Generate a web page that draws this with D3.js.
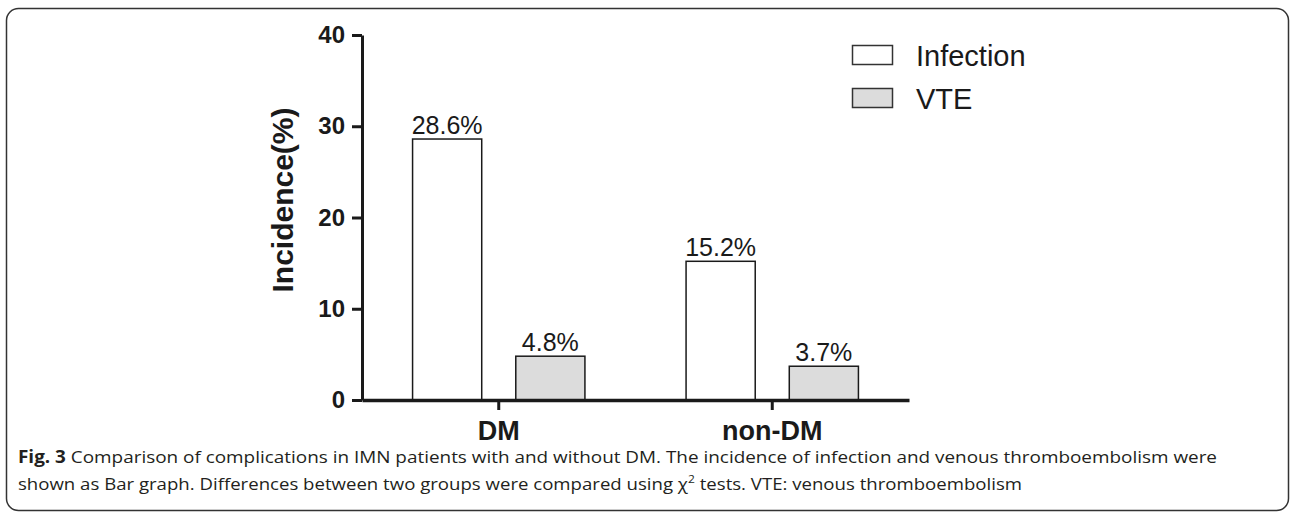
<!DOCTYPE html>
<html>
<head>
<meta charset="utf-8">
<script src="https://cdn.jsdelivr.net/npm/d3@7"></script>
<style>
  html, body { margin: 0; padding: 0; background: #fff; }
  svg { display: block; }
</style>
</head>
<body>
<svg id="chart" width="1292" height="513"></svg>
<script>
// ---- data ----
const groups = ["DM", "non-DM"];
const seriesKeys = ["Infection", "VTE"];
const infectionValues = [28.6, 15.2];
const vteValues = [4.8, 3.7];
const valueLabels = [["28.6%", "4.8%"], ["15.2%", "3.7%"]];
const yTicks = [0, 10, 20, 30, 40];
const yTitle = "Incidence(%)";
const captionLine1Bold = "Fig. 3";
const captionLine1 = " Comparison of complications in IMN patients with and without DM. The incidence of infection and venous thromboembolism were";
const captionLine2a = "shown as Bar graph. Differences between two groups were compared using χ";
const captionLine2sup = "2";
const captionLine2b = " tests. VTE: venous thromboembolism";

const seriesFill = { Infection: "#ffffff", VTE: "#dcdcdc" };
const dark = "#1a1a1a";

const svg = d3.select("#chart");

// frame
svg.append("rect")
  .attr("x", 6.5).attr("y", 8.5).attr("width", 1282).attr("height", 502)
  .attr("rx", 12).attr("ry", 12)
  .attr("fill", "none").attr("stroke", "#333").attr("stroke-width", 1.5);

// scales
const x0 = d3.scaleBand().domain(groups).range([362, 909]).padding(0);
const x1 = d3.scaleBand().domain(seriesKeys).range([0, x0.bandwidth()])
  .paddingInner(0.33).paddingOuter(0.49);
const y = d3.scaleLinear().domain([0, 40]).range([400, 35]);

const data = groups.map((g, i) => ({
  group: g,
  values: [
    { key: "Infection", value: infectionValues[i], label: valueLabels[i][0] },
    { key: "VTE", value: vteValues[i], label: valueLabels[i][1] }
  ]
}));

// bars
const gGroups = svg.append("g").selectAll("g").data(data).join("g")
  .attr("transform", d => `translate(${x0(d.group)},0)`);

gGroups.selectAll("rect").data(d => d.values).join("rect")
  .attr("x", d => x1(d.key))
  .attr("y", d => y(d.value))
  .attr("width", x1.bandwidth())
  .attr("height", d => y(0) - y(d.value))
  .attr("fill", d => seriesFill[d.key])
  .attr("stroke", dark).attr("stroke-width", 1.5);

gGroups.selectAll("text").data(d => d.values).join("text")
  .attr("x", d => x1(d.key) + x1.bandwidth() / 2)
  .attr("y", d => y(d.value) - 5)
  .attr("text-anchor", "middle")
  .attr("font-family", "'Liberation Sans', Arial, sans-serif")
  .attr("font-size", 25)
  .attr("fill", dark)
  .text(d => d.label);

// y axis
const yAxis = svg.append("g").attr("transform", "translate(362,0)")
  .call(d3.axisLeft(y).tickValues(yTicks).tickSize(10).tickSizeOuter(0).tickPadding(7));
yAxis.select(".domain").attr("stroke", dark).attr("stroke-width", 3);
yAxis.selectAll(".tick line").attr("stroke", dark).attr("stroke-width", 3);
yAxis.selectAll(".tick text")
  .attr("font-family", "'Liberation Sans', Arial, sans-serif")
  .attr("font-weight", "bold").attr("font-size", 24).attr("fill", dark);

// x axis
const xAxis = svg.append("g").attr("transform", "translate(0,400)")
  .call(d3.axisBottom(x0).tickSize(10).tickSizeOuter(0).tickPadding(11));
xAxis.select(".domain").attr("stroke", dark).attr("stroke-width", 3.5);
xAxis.selectAll(".tick line").attr("stroke", dark).attr("stroke-width", 3);
xAxis.selectAll(".tick text")
  .attr("font-family", "'Liberation Sans', Arial, sans-serif")
  .attr("font-weight", "bold").attr("font-size", 27).attr("fill", dark);

// y title
svg.append("text")
  .attr("transform", "translate(293,200) rotate(-90)")
  .attr("text-anchor", "middle")
  .attr("font-family", "'Liberation Sans', Arial, sans-serif")
  .attr("font-weight", "bold").attr("font-size", 30).attr("fill", dark)
  .text(yTitle);

// legend
const legend = svg.append("g");
seriesKeys.forEach((k, i) => {
  const ly = 45 + i * 43;
  legend.append("rect")
    .attr("x", 852.5).attr("y", ly + 0.5).attr("width", 40).attr("height", 19)
    .attr("fill", seriesFill[k]).attr("stroke", "#333").attr("stroke-width", 1.5);
  legend.append("text")
    .attr("x", 916).attr("y", ly + 20.5)
    .attr("font-family", "'Liberation Sans', Arial, sans-serif")
    .attr("font-size", 29).attr("fill", dark)
    .text(k);
});

// caption
const capFont = "'Open Sans', 'Noto Sans', sans-serif";
const cap1 = svg.append("text")
  .attr("x", 18).attr("y", 463)
  .attr("font-family", capFont).attr("font-size", 17).attr("fill", "#231f20");
cap1.append("tspan").attr("font-weight", "bold").text(captionLine1Bold);
cap1.append("tspan").text(captionLine1);

const cap2 = svg.append("text")
  .attr("x", 18).attr("y", 490)
  .attr("font-family", capFont).attr("font-size", 17).attr("fill", "#231f20");
cap2.append("tspan").text(captionLine2a);
cap2.append("tspan").attr("dy", -7).attr("font-size", 11).text(captionLine2sup);
cap2.append("tspan").attr("dy", 7).text(captionLine2b);

// fit caption widths to reference
cap1.attr("textLength", 1199).attr("lengthAdjust", "spacingAndGlyphs");
cap2.attr("textLength", 1004).attr("lengthAdjust", "spacingAndGlyphs");
</script>
</body>
</html>
